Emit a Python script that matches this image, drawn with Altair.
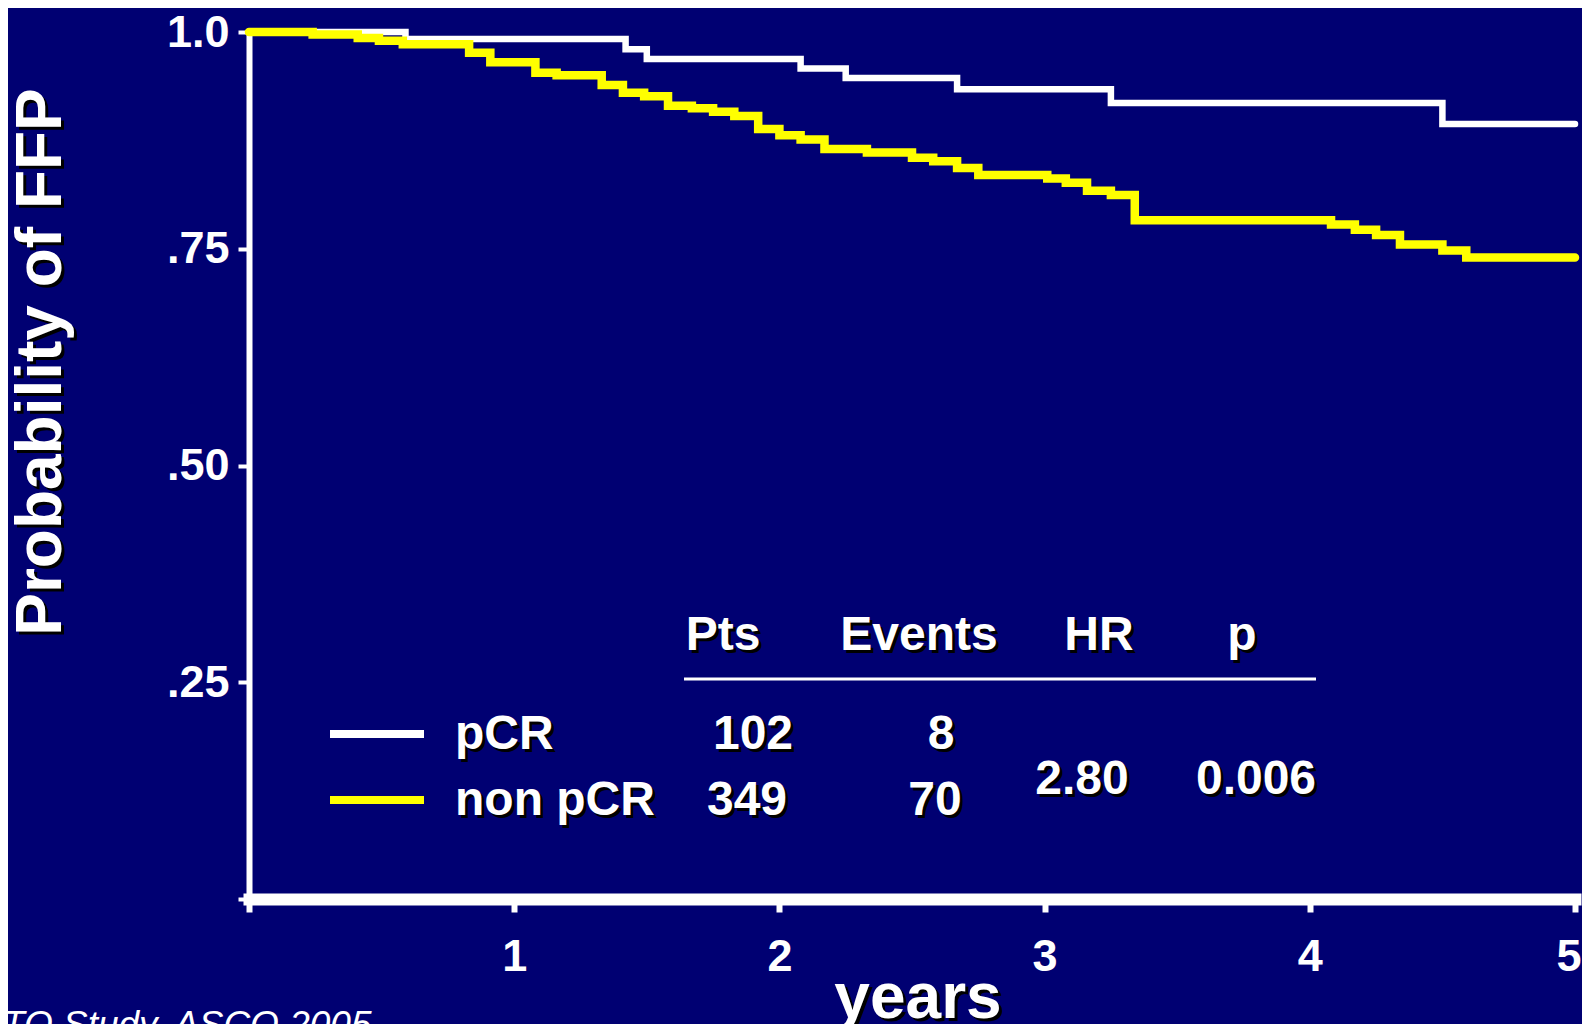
import altair as alt
import pandas as pd

# ---------------- data ----------------
groups = ["pCR", "non pCR"]
line_colors = ["#ffffff", "#ffff00"]

pcr_years = [0.0, 0.59, 1.42, 1.50, 2.08, 2.25, 2.67, 3.25, 4.50, 5.0]
pcr_prob = [1.0, 0.992, 0.980, 0.969, 0.958, 0.947, 0.934, 0.918, 0.894, 0.894]

nonpcr_years = [0.0, 0.24, 0.41, 0.49, 0.58, 0.83, 0.91, 1.08, 1.16, 1.33, 1.41,
                1.49, 1.58, 1.67, 1.75, 1.83, 1.92, 2.00, 2.08, 2.17, 2.33, 2.50,
                2.58, 2.67, 2.75, 3.01, 3.08, 3.16, 3.25, 3.34, 4.08, 4.17, 4.25,
                4.34, 4.50, 4.59, 5.0]
nonpcr_prob = [1.0, 0.997, 0.993, 0.990, 0.986, 0.976, 0.965, 0.953, 0.950, 0.939,
               0.930, 0.926, 0.915, 0.912, 0.908, 0.903, 0.888, 0.881, 0.876, 0.865,
               0.861, 0.855, 0.851, 0.843, 0.835, 0.831, 0.826, 0.817, 0.812, 0.783,
               0.778, 0.772, 0.766, 0.755, 0.748, 0.740, 0.740]

x_ticks = [0, 1, 2, 3, 4, 5]
x_tick_labels = ["", "1", "2", "3", "4", "5"]
y_ticks = [0, 0.25, 0.5, 0.75, 1.0]
y_tick_labels = ["", ".25", ".50", ".75", "1.0"]

table_headers = ["Pts", "Events", "HR", "p"]
pts = [102, 349]
events = [8, 70]
hazard_ratio = "2.80"
p_value = "0.006"

y_title = "Probability of FFP"
x_title = "years"
footer = "TO Study, ASCO 2005"

# ---------------- styling ----------------
BG = "#000072"
FONT = "Liberation Sans"
W, H = 1326, 867


def label_expr(vals, labels):
    expr = "''"
    for v, l in reversed(list(zip(vals, labels))):
        expr = f"abs(datum.value - {v}) < 1e-6 ? '{l}' : ({expr})"
    return expr


df = pd.concat([
    pd.DataFrame({"year": pcr_years, "prob": pcr_prob, "group": groups[0]}),
    pd.DataFrame({"year": nonpcr_years, "prob": nonpcr_prob, "group": groups[1]}),
])

x_scale = alt.Scale(domain=[0, 5], nice=False, zero=False)
y_scale = alt.Scale(domain=[0, 1], nice=False)

x_axis = alt.Axis(
    values=x_ticks, labelExpr=label_expr(x_ticks, x_tick_labels), title=None,
    grid=False, domainColor="white", domainWidth=12, domainCap="square",
    tickColor="white", tickWidth=6, tickSize=13, labelColor="white",
    labelFont=FONT, labelFontSize=45, labelFontWeight="bold", labelPadding=22,
    labelFlush=True, labelFlushOffset=6, labelOverlap=False,
)
y_axis = alt.Axis(
    values=y_ticks, labelExpr=label_expr(y_ticks, y_tick_labels), title=None,
    grid=False, domainColor="white", domainWidth=6, tickColor="white",
    tickWidth=4, tickSize=11, labelColor="white", labelFont=FONT,
    labelFontSize=45, labelFontWeight="bold", labelPadding=9,
    labelBaseline="middle", labelFlush=False, labelOverlap=False,
)


def curve(i, width):
    return alt.Chart(df[df["group"] == groups[i]]).mark_line(
        interpolate="step-after", strokeWidth=width, color=line_colors[i],
        strokeJoin="miter", strokeCap="round",
    ).encode(
        x=alt.X("year:Q", scale=x_scale, axis=x_axis),
        y=alt.Y("prob:Q", scale=y_scale, axis=y_axis),
    )


one = alt.Data(values=[{}])


def text(t, x, y, size=48, align="center", baseline="alphabetic", bold=True,
         italic=False, angle=0, shadow=True):
    layers = []
    kw = dict(font=FONT, fontSize=size, align=align, baseline=baseline,
              fontWeight="bold" if bold else "normal")
    if italic:
        kw["fontStyle"] = "italic"
    if angle:
        kw["angle"] = angle
    if shadow:
        layers.append(alt.Chart(one).mark_text(color="black", **kw).encode(
            x=alt.value(x + 3), y=alt.value(y + 3), text=alt.value(t)))
    layers.append(alt.Chart(one).mark_text(color="white", **kw).encode(
        x=alt.value(x), y=alt.value(y), text=alt.value(t)))
    return layers


def rule(x1, x2, y, color, width):
    return alt.Chart(one).mark_rule(color=color, strokeWidth=width).encode(
        x=alt.value(x1), x2=alt.value(x2), y=alt.value(y))


layers = [curve(0, 6.5), curve(1, 8.5)]

# axis titles and footer
layers += text(y_title, -207, 330, size=64, baseline="middle", angle=270)
layers += text(x_title, 669, 986, size=64)
layers += text(footer, -247, 1005, size=37, align="left", bold=False,
               italic=True, shadow=False)

# table header
header_x = [474, 670, 850, 993]
for h, hx in zip(table_headers, header_x):
    layers += text(h, hx, 618)
layers.append(rule(435, 1067, 647, "white", 3))

# legend rows
row_y = [717, 783]
legend_line_y = [702, 768]
for i, g in enumerate(groups):
    layers.append(rule(81, 175, legend_line_y[i], line_colors[i], 8))
    layers += text(g, 206, row_y[i], align="left")
layers += text(str(pts[0]), 504, row_y[0])
layers += text(str(pts[1]), 498, row_y[1])
layers += text(str(events[0]), 692, row_y[0])
layers += text(str(events[1]), 686, row_y[1])
layers += text(hazard_ratio, 833, 762)
layers += text(p_value, 1007, 762)

chart = alt.layer(*layers).properties(
    width=W, height=H, background=BG,
    autosize=alt.AutoSizeParams(type="none"),
    padding={"left": 241, "top": 24, "right": 7, "bottom": 125},
).configure_view(stroke=None)

chart.save("out.html", embed_options={"renderer": "svg", "actions": False})
